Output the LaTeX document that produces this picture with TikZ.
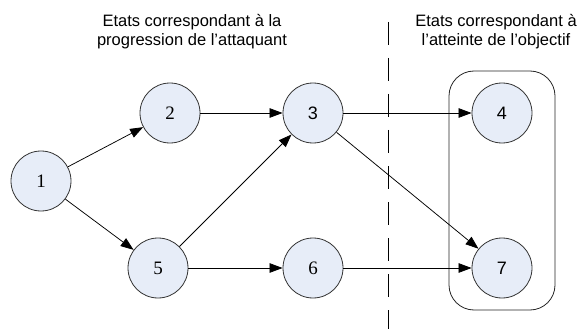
\documentclass[tikz,border=0pt]{standalone}
\usepackage{fontspec}
\setmainfont{Liberation Serif}
\newfontfamily\timesfont{Liberation Serif}
\newfontfamily\arialfont{Liberation Sans}
\usetikzlibrary{arrows.meta}
\definecolor{nodefill}{RGB}{231,237,248}
\begin{document}
\begin{tikzpicture}[x=1pt,y=-1pt,
  state/.style={circle,draw=black!80,fill=nodefill,minimum size=60pt,inner sep=0pt,line width=0.8pt,font=\timesfont\fontsize{19}{19}\selectfont},
  sstate/.style={state,font=\arialfont\fontsize{18}{18}\selectfont},
  link/.style={-{Triangle[length=13pt,width=9.5pt]},line width=0.75pt},
  caption/.style={font=\arialfont\fontsize{16.5}{19}\selectfont,inner sep=0pt,anchor=base},
  groupbox/.style={draw=black!85,line width=0.8pt,rounded corners=25pt,minimum width=106pt,minimum height=239pt,inner sep=0pt},
  divider/.style={line width=1pt,dash pattern=on 23pt off 13pt}]
\useasboundingbox (0,0) rectangle (579,329);
% group box
\node[groupbox] (grp) at (502,190.5) {};
% dashed divider
\coordinate (dtop) at (388,22);
\coordinate (dbot) at (388,329);
\draw[divider] (dtop) -- (dbot);
% captions
\node[caption] (c1a) at (192,27) {Etats correspondant à la};
\node[caption] (c1b) at (192,46) {progression de l’attaquant};
\node[caption] (c2a) at (496,27) {Etats correspondant à};
\node[caption] (c2b) at (496,46) {l’atteinte de l’objectif};
% states
\node[state]  (n1) at (41,181) {1};
\node[state]  (n2) at (170,113) {2};
\node[sstate] (n3) at (313,113) {3};
\node[sstate] (n4) at (502,113) {4};
\node[state]  (n5) at (158,268) {5};
\node[state]  (n6) at (313,268) {6};
\node[sstate] (n7) at (502,268) {7};
% transitions
\draw[link] (n1) -- (n2);
\draw[link] (n1) -- (n5);
\draw[link] (n2) -- (n3);
\draw[link] (n5) -- (n3);
\draw[link] (n5) -- (n6);
\draw[link] (n3) -- (n4);
\draw[link] (n3) -- (n7);
\draw[link] (n6) -- (n7);
\end{tikzpicture}
\end{document}
